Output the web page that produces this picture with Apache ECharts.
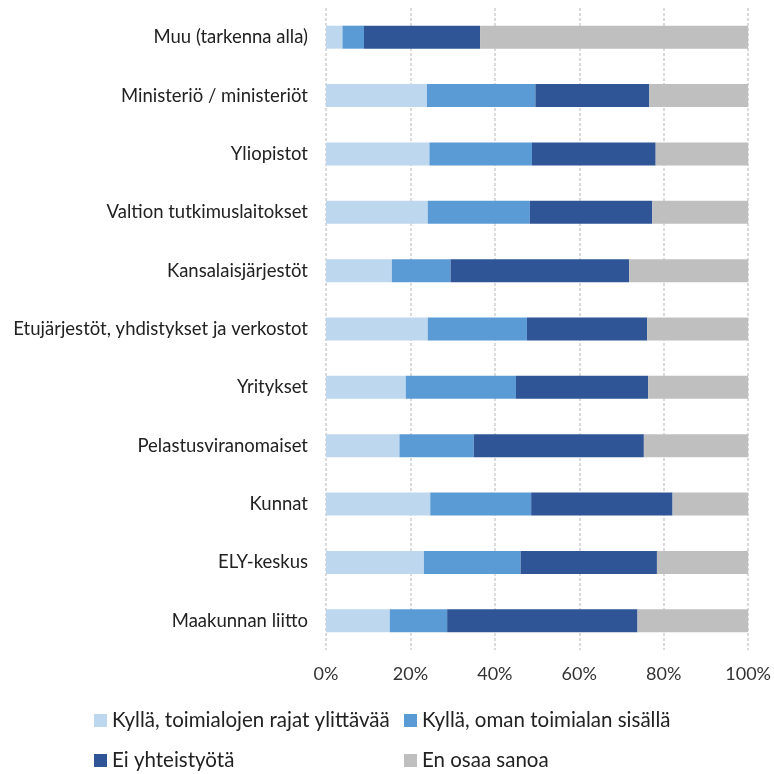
<!DOCTYPE html>
<html>
<head>
<meta charset="utf-8">
<script src="https://cdn.jsdelivr.net/npm/echarts@6/dist/echarts.min.js"></script>
<style>
  html, body { margin: 0; padding: 0; background: #fff; }
  #chart { width: 774px; height: 774px; }
</style>
</head>
<body>
<div id="chart"></div>
<script>
// categories, top to bottom
var categories = ['Muu (tarkenna alla)', 'Ministeriö / ministeriöt', 'Yliopistot', 'Valtion tutkimuslaitokset',
  'Kansalaisjärjestöt', 'Etujärjestöt, yhdistykset ja verkostot', 'Yritykset', 'Pelastusviranomaiset',
  'Kunnat', 'ELY-keskus', 'Maakunnan liitto'];
var seriesNames = ['Kyllä, toimialojen rajat ylittävää', 'Kyllä, oman toimialan sisällä', 'Ei yhteistyötä', 'En osaa sanoa'];
var rajatYlittava = [3.9, 23.9, 24.5, 24.1, 15.6, 24.1, 18.9, 17.4, 24.7, 23.2, 15.1];
var omanSisalla   = [5.1, 25.7, 24.3, 24.2, 13.9, 23.5, 26.1, 17.6, 23.9, 22.9, 13.6];
var eiYhteistyota = [27.5, 27.0, 29.3, 29.0, 42.3, 28.5, 31.3, 40.3, 33.5, 32.3, 45.1];
var enOsaa        = [63.5, 23.4, 21.9, 22.7, 28.2, 23.9, 23.7, 24.7, 17.9, 21.6, 26.2];
var colors = ['#BDD7EE', '#5B9BD5', '#2F5597', '#BFBFBF'];

var font = 'Lato';
var myChart = echarts.init(document.getElementById('chart'));
var allData = [rajatYlittava, omanSisalla, eiYhteistyota, enOsaa];
var series = [];
for (var i = 0; i < seriesNames.length; i++) {
  series.push({
    name: seriesNames[i],
    type: 'bar',
    stack: 'total',
    barWidth: 23,
    itemStyle: { color: colors[i] },
    data: allData[i]
  });
}
// legend in a 2x2 layout: one legend per item
var legendPos = [[94, 710], [404, 710], [94, 750], [404, 750]];
var legends = [];
for (var j = 0; j < seriesNames.length; j++) {
  legends.push({
    left: legendPos[j][0], top: legendPos[j][1], padding: 0,
    itemWidth: 13, itemHeight: 13, icon: 'rect', itemGap: 0,
    textStyle: { fontFamily: font, fontSize: 20.5, color: '#222' },
    data: [seriesNames[j]]
  });
}
var option = {
  animation: false,
  color: colors,
  grid: { left: 326, right: 23, top: 8, bottom: 124 },
  legend: legends,
  xAxis: {
    type: 'value',
    min: 0, max: 100, interval: 20,
    axisLine: { show: false },
    axisTick: { show: false },
    axisLabel: { formatter: '{value}%', margin: 15, fontFamily: font, fontSize: 18, color: '#333' },
    splitLine: { lineStyle: { color: '#cfcfcf', width: 1.5, type: [3, 2] } }
  },
  yAxis: {
    type: 'category',
    inverse: true,
    data: categories,
    axisLine: { show: false },
    axisTick: { show: false },
    axisLabel: { margin: 18, fontFamily: font, fontSize: 18.5, color: '#222' }
  },
  series: series
};
myChart.setOption(option);
</script>
</body>
</html>
